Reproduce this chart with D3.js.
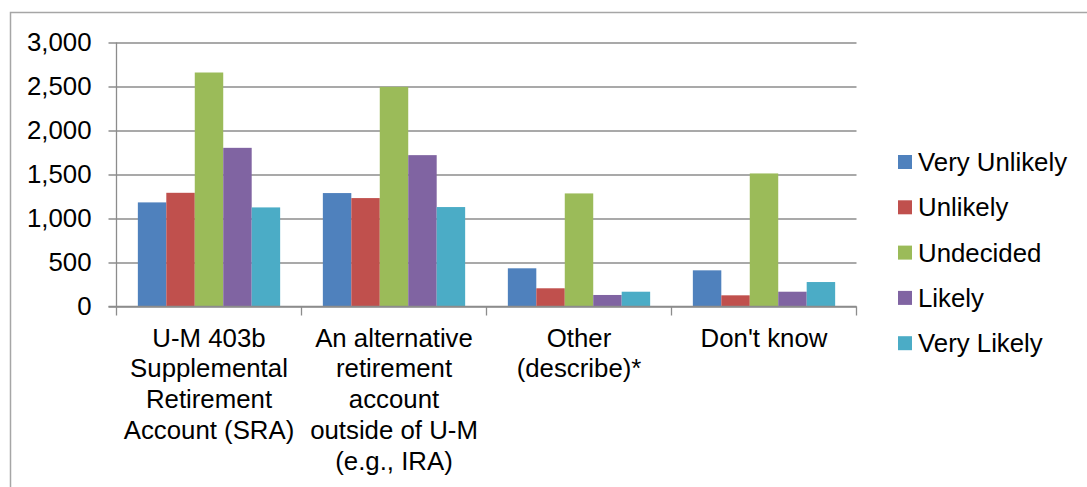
<!DOCTYPE html>
<html>
<head>
<meta charset="utf-8">
<script src="https://cdn.jsdelivr.net/npm/d3@7"></script>
<style>
  html, body { margin: 0; padding: 0; background: #fff; }
  svg { display: block; font-family: "Liberation Sans", Arial, sans-serif; }
</style>
</head>
<body>
<svg id="chart" width="1087" height="487"></svg>
<script>
// Survey answer categories, each split into a wrapped label
const categories = ["SRA", "Alt", "Other", "DK"];
const categoryLabels = [
  ["U-M 403b", "Supplemental", "Retirement", "Account (SRA)"],
  ["An alternative", "retirement", "account", "outside of U-M", "(e.g., IRA)"],
  ["Other", "(describe)*"],
  ["Don't know"]
];

// Likelihood response levels
const series = ["Very Unlikely", "Unlikely", "Undecided", "Likely", "Very Likely"];
const colors = ["#4F81BD", "#C0504D", "#9BBB59", "#8064A2", "#4BACC6"];

// Response counts per category, in series order
const veryUnlikely = [1183, 1289, 434, 411];
const unlikely     = [1292, 1232, 207, 127];
const undecided    = [2659, 2496, 1285, 1512];
const likely       = [1803, 1720, 131, 168];
const veryLikely   = [1126, 1130, 168, 278];
const seriesValues = [veryUnlikely, unlikely, undecided, likely, veryLikely];

const yTicks = [0, 500, 1000, 1500, 2000, 2500, 3000];

const svg = d3.select("#chart");
const fontSize = 25.8;

// outer chart frame
svg.append("rect")
  .attr("x", 10.5).attr("y", 12.5)
  .attr("width", 1200).attr("height", 600)
  .attr("fill", "none").attr("stroke", "#a6a6a6").attr("stroke-width", 1.5);

const plot = { left: 116.5, right: 856.5, top: 42.5, bottom: 306.5 };

const x0 = d3.scaleBand().domain(categories).range([plot.left, plot.right]).padding(0);
const groupW = x0.bandwidth() * (5 / 6.5);
const groupOff = (x0.bandwidth() - groupW) / 2;
const x1 = d3.scaleBand().domain(series).range([0, groupW]).padding(0);
const y = d3.scaleLinear().domain([0, 3000]).range([plot.bottom, plot.top]);

// horizontal gridlines with left tick marks
const yAxis = d3.axisLeft(y).tickValues(yTicks).tickSize(-(plot.right - plot.left)).tickSizeOuter(0)
  .tickFormat(d3.format(","));
const gy = svg.append("g").attr("transform", `translate(${plot.left},0)`).call(yAxis);
gy.select(".domain").remove();
gy.selectAll(".tick line").attr("stroke", "#8c8c8c").attr("stroke-width", 1.3)
  .attr("x1", -8);
gy.selectAll(".tick text").attr("x", -25).attr("fill", "#000")
  .style("font-size", fontSize + "px").style("font-family", "'Liberation Sans', Arial, sans-serif");

// vertical axis line
svg.append("line")
  .attr("x1", plot.left).attr("x2", plot.left)
  .attr("y1", plot.top).attr("y2", plot.bottom)
  .attr("stroke", "#8c8c8c").attr("stroke-width", 1.3);

// bars
const groups = svg.append("g").selectAll("g")
  .data(categories)
  .join("g")
  .attr("transform", d => `translate(${x0(d) + groupOff},0)`);

groups.selectAll("rect")
  .data((c, ci) => series.map((s, si) => ({ s, si, v: seriesValues[si][ci] })))
  .join("rect")
  .attr("x", d => x1(d.s))
  .attr("width", x1.bandwidth())
  .attr("y", d => y(d.v))
  .attr("height", d => y(0) - y(d.v))
  .attr("fill", d => colors[d.si]);

// category axis with boundary ticks
const xAxisG = svg.append("g");
xAxisG.append("line")
  .attr("x1", plot.left - 8).attr("x2", plot.right)
  .attr("y1", plot.bottom).attr("y2", plot.bottom)
  .attr("stroke", "#8c8c8c").attr("stroke-width", 1.3);
const boundaries = categories.map(c => x0(c)).concat([plot.right]);
xAxisG.selectAll("line.tick")
  .data(boundaries)
  .join("line")
  .attr("class", "tick")
  .attr("x1", d => d).attr("x2", d => d)
  .attr("y1", plot.bottom).attr("y2", plot.bottom + 9)
  .attr("stroke", "#8c8c8c").attr("stroke-width", 1.3);

const labelG = xAxisG.selectAll("text.cat")
  .data(categories)
  .join("text")
  .attr("class", "cat")
  .attr("text-anchor", "middle")
  .style("font-size", fontSize + "px")
  .attr("fill", "#000");
labelG.each(function (c, i) {
  const t = d3.select(this);
  categoryLabels[i].forEach((line, li) => {
    t.append("tspan")
      .attr("x", x0(c) + x0.bandwidth() / 2)
      .attr("y", 346.5 + li * 30.8)
      .text(line);
  });
});

// legend
const legend = svg.append("g").selectAll("g")
  .data(series)
  .join("g")
  .attr("transform", (d, i) => `translate(898,${162 + i * 45.3})`);
legend.append("rect")
  .attr("x", 0).attr("y", -7).attr("width", 14).attr("height", 14)
  .attr("fill", (d, i) => colors[i]);
legend.append("text")
  .attr("x", 20).attr("y", 0).attr("dy", "0.35em")
  .style("font-size", fontSize + "px")
  .attr("fill", "#000")
  .text(d => d);
</script>
</body>
</html>
